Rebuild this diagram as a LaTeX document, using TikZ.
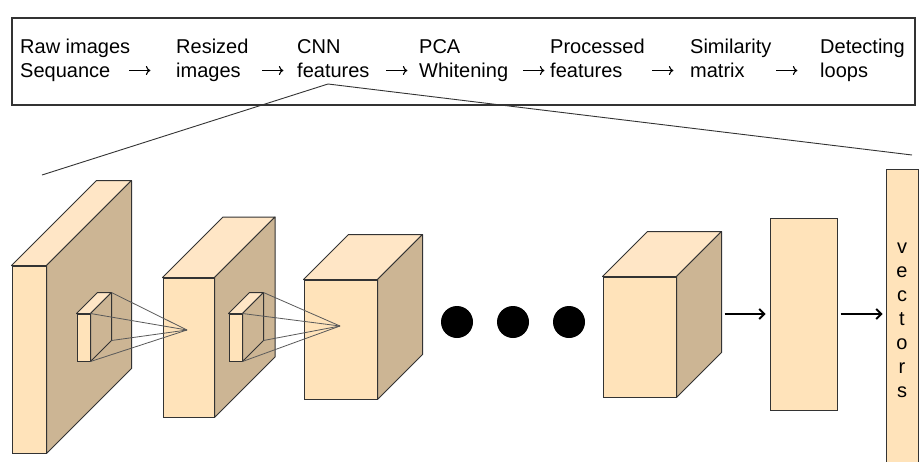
\documentclass[tikz,border=0pt]{standalone}
\usepackage{fontspec}
\setmainfont{Liberation Sans}
\usetikzlibrary{arrows.meta,calc}
\definecolor{facec}{HTML}{FFE3BA}
\definecolor{sidec}{HTML}{CCB594}
\definecolor{topc}{HTML}{FFE6C6}
\definecolor{edgec}{HTML}{333333}
\newcommand\cuboidparts[2]{%
  \filldraw[topface] (#1.north west) -- ++(#2,-#2) -- ($(#1.north east)+(#2,-#2)$) -- (#1.north east) -- cycle;
  \filldraw[sideface] (#1.north east) -- ++(#2,-#2) -- ($(#1.south east)+(#2,-#2)$) -- (#1.south east) -- cycle;
}
\begin{document}
\begin{tikzpicture}[x=1pt,y=-1pt,
  face/.style={draw=edgec, fill=facec, line width=1pt, inner sep=0pt, rectangle},
  topface/.style={draw=edgec, fill=topc, line width=1pt, line join=round},
  sideface/.style={draw=edgec, fill=sidec, line width=1pt, line join=round},
  lbl/.style={anchor=north west, align=left, inner sep=0pt, font=\fontsize{20}{23.5}\selectfont},
  tslot/.style={anchor=west, inner sep=0pt, minimum width=21pt, minimum height=8pt},
  tarr/.style={draw=black, line width=1.1pt, -{Computer Modern Rightarrow[length=4.5pt,width=9pt]}},
  kline/.style={draw=black!65, line width=0.8pt},
  zline/.style={draw=edgec, line width=0.9pt},
  barr/.style={draw=black, line width=1.8pt, -{Straight Barb[length=5pt,width=10pt]}},
  dot/.style={circle, fill=black, minimum size=32pt, inner sep=0pt}]
\useasboundingbox (0,0) rectangle (920,461);

% top pipeline box
\node[draw=edgec, line width=1.3pt, minimum width=903pt, minimum height=87pt, inner sep=0pt] (topbox) at (463.5,61.5) {};
\node[lbl] (raw)  at (20,36.9)  {\strut Raw images\\Sequance};
\node[lbl] (res)  at (176,36.9) {\strut Resized\\images};
\node[lbl] (cnn)  at (297,36.9) {\strut CNN\\features};
\node[lbl] (pca)  at (419,36.9) {\strut PCA\\Whitening};
\node[lbl] (proc) at (550,36.9) {\strut Processed\\features};
\node[lbl] (sim)  at (690,36.9) {\strut Similarity\\matrix};
\node[lbl] (det)  at (820,36.9) {\strut Detecting\\loops};
\node[tslot] (a1) at (129,70.5) {};
\node[tslot] (a2) at (262,70.5) {};
\node[tslot] (a3) at (386,70.5) {};
\node[tslot] (a4) at (523,70.5) {};
\node[tslot] (a5) at (652,70.5) {};
\node[tslot] (a6) at (776,70.5) {};
\foreach \a in {a1,a2,a3,a4,a5,a6} \draw[tarr] (\a.west) -- (\a.east);

% zoom lines
\coordinate (zt) at (328,84);
\coordinate (zl) at (42,175);
\coordinate (zr) at (912,155);
\draw[zline] (zt) -- (zl);
\draw[zline] (zt) -- (zr);

% block 1
\node[face, minimum width=34pt, minimum height=187pt] (b1) at (29,359.5) {};
\cuboidparts{b1}{85}
% kernel 1
\node[face, minimum width=13pt, minimum height=47pt] (k1) at (83.5,337.5) {};
\cuboidparts{k1}{21}
% block 2
\node[face, minimum width=51pt, minimum height=139pt] (b2) at (188.5,347.5) {};
\cuboidparts{b2}{60.5}
\coordinate (ap1) at (187,330);
\draw[kline] ($(k1.north east)+(21,-21)$) -- (ap1);
\draw[kline] (k1.north east) -- (ap1);
\draw[kline] ($(k1.south east)+(21,-21)$) -- (ap1);
\draw[kline] (k1.south east) -- (ap1);
% kernel 2
\node[face, minimum width=13pt, minimum height=47pt] (k2) at (235.5,337.5) {};
\cuboidparts{k2}{21}
% block 3
\node[face, minimum width=73pt, minimum height=119pt] (b3) at (340.5,339.5) {};
\cuboidparts{b3}{45}
\coordinate (ap2) at (340,326);
\draw[kline] ($(k2.north east)+(21,-21)$) -- (ap2);
\draw[kline] (k2.north east) -- (ap2);
\draw[kline] ($(k2.south east)+(21,-21)$) -- (ap2);
\draw[kline] (k2.south east) -- (ap2);

% dots
\node[dot] (d1) at (457,322) {};
\node[dot] (d2) at (513,322) {};
\node[dot] (d3) at (569,322) {};

% block 4
\node[face, minimum width=73pt, minimum height=120pt] (b4) at (639.5,337) {};
\cuboidparts{b4}{45}
% fully connected
\node[face, minimum width=67pt, minimum height=192pt] (fc) at (803.5,314) {};
% vectors
\node[face, minimum width=32pt, minimum height=311pt] (vec) at (902,324.5) {};
\node[align=center, inner sep=0pt, font=\fontsize{20}{24}\selectfont] (vtxt) at (902,320) {v\\e\\c\\t\\o\\r\\s};

\coordinate (b4out) at ($(b4.east)+(48,0)$);
\draw[barr] (fc.west -| b4out) -- ([xshift=-4pt]fc.west);
\draw[barr] ([xshift=3pt]fc.east) -- ([xshift=-3pt]vec.west |- fc.east);
\end{tikzpicture}
\end{document}
